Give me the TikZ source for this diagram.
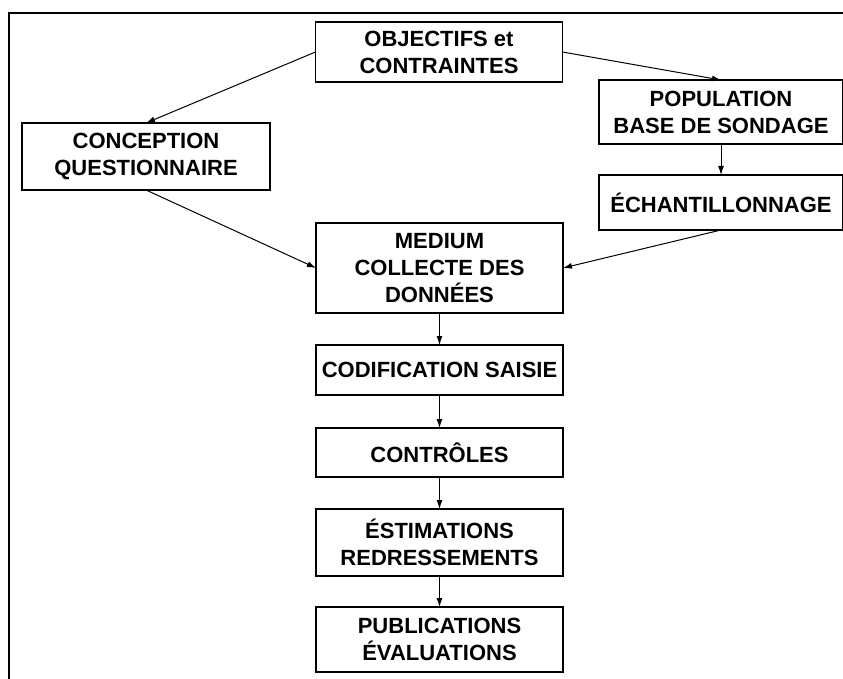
\documentclass[tikz,border=0pt]{standalone}
\usepackage{fontspec}
\setmainfont{Liberation Sans}
\usepackage{tikz}
\usetikzlibrary{arrows.meta}
\usetikzlibrary{positioning}

\begin{document}
\begin{tikzpicture}
      [x=1pt,y=-1pt,
       phase/.style={rectangle,draw=black,line width=1.6pt,minimum width=247pt,
         inner sep=2pt,outer sep=0pt,align=center,font=\fontsize{22}{27}\selectfont\bfseries},
       flow/.style={-{Latex[length=9pt,width=6pt]},line width=1pt},
       node distance=32pt]
      \useasboundingbox (0,0) rectangle (843,679);
      % frame
      \draw [line width=1.6pt] (9,679) -- (9,13) -- (843,13);
      % place nodes
      \node[phase,minimum height=60pt] (objectifs) at (439,52) {OBJECTIFS et\\CONTRAINTES};
      \node[phase,minimum height=67pt,minimum width=248pt] (conception) at (146,156.5) {CONCEPTION\\QUESTIONNAIRE};
      \node[phase,minimum height=64pt,minimum width=244pt] (population) at (721,112) {POPULATION\\BASE DE SONDAGE};
      \node[phase,minimum height=55pt,minimum width=244pt] (echantillon) [below=31pt of population] {ÉCHANTILLONNAGE};
      \node[phase,minimum height=90pt] (medium) at (439.5,268) {MEDIUM\\COLLECTE DES\\DONNÉES};
      \node[phase,minimum height=50pt] (codification) [below=of medium] {CODIFICATION SAISIE};
      \node[phase,minimum height=49pt] (controles) [below=33pt of codification] {CONTRÔLES};
      \node[phase,minimum height=67pt] (estimations) [below=of controles] {ÉSTIMATIONS\\REDRESSEMENTS};
      \node[phase,minimum height=65pt] (publications) [below=31pt of estimations] {PUBLICATIONS\\ÉVALUATIONS};
      % add edges
      \draw [flow] (objectifs.west) -- (conception.north);
      \draw [flow] (objectifs.east) -- (population.north);
      \draw [flow] (population) -- (echantillon);
      \draw [flow] (conception.south) -- (medium.west);
      \draw [flow] (echantillon.south) -- (medium.east);
      \draw [flow] (medium) -- (codification);
      \draw [flow] (codification) -- (controles);
      \draw [flow] (controles) -- (estimations);
      \draw [flow] (estimations) -- (publications);
    \end{tikzpicture}
\end{document}
